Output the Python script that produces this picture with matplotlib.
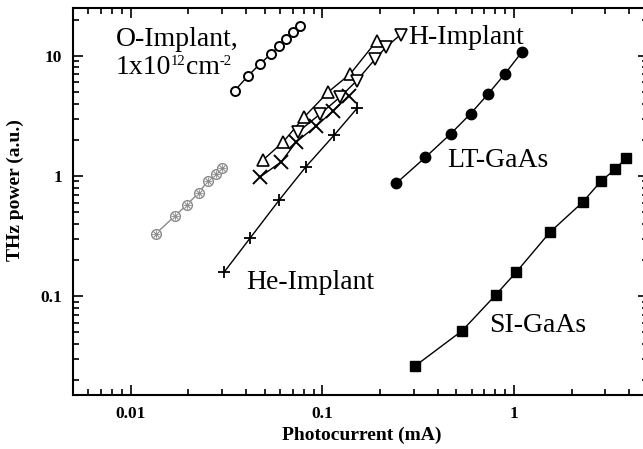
import numpy as np
import matplotlib
matplotlib.use('Agg')
import matplotlib.pyplot as plt
from matplotlib.transforms import offset_copy
from matplotlib.ticker import LogLocator, FixedLocator, FixedFormatter, NullFormatter

# Dados (fotocorrente em mA, potencia THz em u.a.)
o_impl_x = [0.0348, 0.0410, 0.0473, 0.0541, 0.0596, 0.0649, 0.0705, 0.0767]
o_impl_y = [5.11, 6.81, 8.58, 10.4, 12.1, 13.9, 15.8, 17.8]

grey_x = [0.0135, 0.0170, 0.0196, 0.0226, 0.0253, 0.0279, 0.0299]
grey_y = [0.329, 0.464, 0.573, 0.721, 0.908, 1.04, 1.17]

he_x = [0.0307, 0.0420, 0.0596, 0.0820, 0.1156, 0.1525]
he_y = [0.158, 0.304, 0.631, 1.19, 2.20, 3.69]

tri_up_x = [0.0491, 0.0625, 0.0805, 0.1075, 0.140, 0.192]
tri_up_y = [1.36, 1.92, 3.10, 5.01, 7.08, 13.3]

cross_x = [0.0473, 0.0610, 0.0731, 0.0930, 0.114, 0.137]
cross_y = [0.98, 1.31, 1.92, 2.61, 3.48, 4.64]

tri_dn_x = [0.0748, 0.0977, 0.124, 0.151, 0.189, 0.216, 0.256]
tri_dn_y = [2.33, 3.29, 4.55, 6.19, 9.44, 11.9, 15.0]

lt_x = [0.243, 0.345, 0.467, 0.593, 0.733, 0.897, 1.097]
lt_y = [0.869, 1.43, 2.24, 3.29, 4.82, 7.08, 10.7]

si_x = [0.303, 0.536, 0.802, 1.03, 1.54, 2.28, 2.84, 3.38, 3.84]
si_y = [0.0260, 0.0514, 0.102, 0.159, 0.340, 0.604, 0.903, 1.14, 1.41]

plt.rcParams['font.family'] = ['Liberation Serif', 'DejaVu Serif']

fig = plt.figure(figsize=(6.43, 4.49), dpi=100)
ax = fig.add_axes([73/643, 54/449, 575/643, 387/449])

lw = 1.0
grey = '#8a8a8a'

ax.plot(o_impl_x, o_impl_y, '-', color='k', lw=lw, marker='o', ms=6.5,
        mfc='white', mec='k', mew=1.4)
ax.plot(grey_x, grey_y, '-', color=grey, lw=lw, marker='o', ms=7,
        mfc='white', mec=grey, mew=1.0)
ax.plot(grey_x, grey_y, 'none', marker='x', ms=4.5, mec=grey, mew=0.8)
ax.plot(grey_x, grey_y, 'none', marker='+', ms=5.5, mec=grey, mew=0.6)
ax.plot(he_x, he_y, '-', color='k', lw=lw, marker='+', ms=8, mew=1.3)
ax.plot(cross_x, cross_y, '-', color='k', lw=lw, marker='x', ms=10, mew=1.4)
ax.plot(tri_up_x, tri_up_y, '-', color='k', lw=lw, marker='^', ms=8.5,
        mfc='white', mec='k', mew=1.2)
ax.plot(tri_dn_x, tri_dn_y, '-', color='k', lw=lw, marker='v', ms=8.5,
        mfc='white', mec='k', mew=1.2)
ax.plot(lt_x, lt_y, '-', color='k', lw=lw, marker='o', ms=7.5, mfc='k', mec='k')
ax.plot(si_x, si_y, '-', color='k', lw=lw, marker='s', ms=6.5, mfc='k', mec='k')

ax.set_xscale('log')
ax.set_yscale('log')
ax.set_xlim(0.005, 5)
ax.set_ylim(0.015, 25)

# Ticks para dentro, em todos os lados
ax.xaxis.set_major_locator(FixedLocator([0.01, 0.1, 1]))
ax.xaxis.set_major_formatter(FixedFormatter(['0.01', '0.1', '1']))
ax.yaxis.set_major_locator(FixedLocator([0.1, 1, 10]))
ax.yaxis.set_major_formatter(FixedFormatter(['0.1', '1', '10']))
ax.xaxis.set_minor_locator(LogLocator(base=10, subs=np.arange(2, 10), numticks=20))
ax.yaxis.set_minor_locator(LogLocator(base=10, subs=np.arange(2, 10), numticks=20))
ax.xaxis.set_minor_formatter(NullFormatter())
ax.yaxis.set_minor_formatter(NullFormatter())
ax.tick_params(which='both', direction='in', top=True, right=True, width=1.2)
ax.tick_params(which='major', length=7, labelsize=12.5, pad=8)
ax.tick_params(which='minor', length=4)
for lab in ax.get_xticklabels() + ax.get_yticklabels():
    lab.set_fontweight('bold')
for sp in ax.spines.values():
    sp.set_linewidth(1.5)

ax.set_xlabel('Photocurrent (mA)', fontsize=14, fontweight='bold')
ax.set_ylabel('THz power (a.u.)', fontsize=14, fontweight='bold')
ax.xaxis.set_label_coords(0.503, -0.082)
ax.yaxis.set_label_coords(-0.085, 0.53)

fs = 20
ax.text(0.00834, 12.1, 'O-Implant,', fontsize=fs, va='baseline')
ax.text(0.282, 12.6, 'H-Implant', fontsize=fs, va='baseline')
ax.text(0.446, 1.19, 'LT-GaAs', fontsize=fs, va='baseline')
ax.text(0.040, 0.114, 'He-Implant', fontsize=fs, va='baseline')
ax.text(0.740, 0.0501, 'SI-GaAs', fontsize=fs, va='baseline')

# Segunda linha com expoentes pequenos (texto montado pedaco a pedaco)
renderer = fig.canvas.get_renderer()
partes = [('1x10', fs, 0), ('12', 10.5, 6.5), ('cm', fs, 0), ('-2', 10.5, 6.5)]
dx = 0.0
for txt, tam, dy in partes:
    tr = offset_copy(ax.transData, fig=fig, x=dx, y=dy, units='points')
    t = ax.text(0.00834, 7.08, txt, fontsize=tam, va='baseline', transform=tr)
    dx += t.get_window_extent(renderer).width * 72.0 / fig.dpi

fig.savefig('out.png', dpi=100)
